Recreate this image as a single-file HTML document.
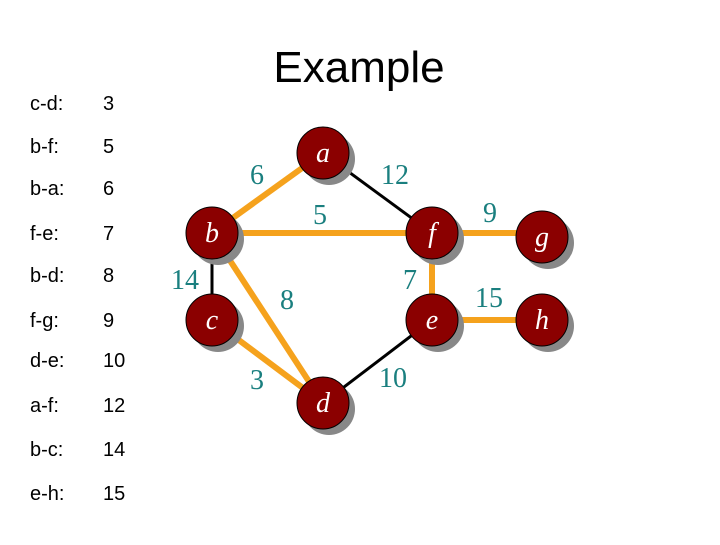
<!DOCTYPE html>
<html><head><style>
body{margin:0;width:720px;height:540px;background:#fff;overflow:hidden;}
</style></head><body>
<svg width="720" height="540" xmlns="http://www.w3.org/2000/svg">
<text x="359" y="82" font-family="Liberation Sans, sans-serif" font-size="44" text-anchor="middle">Example</text>
<g font-family="Liberation Sans, sans-serif" font-size="20" fill="#000">
<text x="30" y="110">c-d:</text><text x="103" y="110">3</text>
<text x="30" y="153">b-f:</text><text x="103" y="153">5</text>
<text x="30" y="195">b-a:</text><text x="103" y="195">6</text>
<text x="30" y="240">f-e:</text><text x="103" y="240">7</text>
<text x="30" y="282">b-d:</text><text x="103" y="282">8</text>
<text x="30" y="327">f-g:</text><text x="103" y="327">9</text>
<text x="30" y="367">d-e:</text><text x="103" y="367">10</text>
<text x="30" y="412">a-f:</text><text x="103" y="412">12</text>
<text x="30" y="456">b-c:</text><text x="103" y="456">14</text>
<text x="30" y="500">e-h:</text><text x="103" y="500">15</text>
</g>
<g stroke-linecap="butt">
<line x1="323" y1="153" x2="432" y2="233" stroke="#000" stroke-width="3"/>
<line x1="212" y1="233" x2="212" y2="320" stroke="#000" stroke-width="3"/>
<line x1="323" y1="403" x2="432" y2="320" stroke="#000" stroke-width="3"/>
<g stroke="#f5a21d" stroke-width="6">
<line x1="323" y1="153" x2="212" y2="233"/>
<line x1="212" y1="233" x2="432" y2="233"/>
<line x1="212" y1="233" x2="323" y2="403"/>
<line x1="212" y1="320" x2="323" y2="403"/>
<line x1="432" y1="233" x2="432" y2="320"/>
<line x1="432" y1="233" x2="542" y2="233"/>
<line x1="432" y1="320" x2="542" y2="320"/>
</g>
</g>
<g>
<g fill="#888">
<circle cx="329" cy="159" r="26"/><circle cx="218" cy="239" r="26"/><circle cx="438" cy="239" r="26"/>
<circle cx="218" cy="326" r="26"/><circle cx="438" cy="326" r="26"/><circle cx="329" cy="409" r="26"/>
<circle cx="548" cy="243" r="26"/><circle cx="548" cy="326" r="26"/>
</g>
<g fill="#8b0000" stroke="#000" stroke-width="1">
<circle cx="323" cy="153" r="26"/><circle cx="212" cy="233" r="26"/><circle cx="432" cy="233" r="26"/>
<circle cx="212" cy="320" r="26"/><circle cx="432" cy="320" r="26"/><circle cx="323" cy="403" r="26"/>
<circle cx="542" cy="237" r="26"/><circle cx="542" cy="320" r="26"/>
</g>
<g fill="#fff" font-family="Liberation Serif, serif" font-style="italic" font-size="28" text-anchor="middle">
<text x="323" y="162">a</text><text x="212" y="242">b</text><text x="432" y="242">f</text>
<text x="212" y="329">c</text><text x="432" y="329">e</text><text x="323" y="412">d</text>
<text x="542" y="246">g</text><text x="542" y="329">h</text>
</g>
</g>
<g fill="#1a7f7f" font-family="Liberation Serif, serif" font-size="28" text-anchor="middle">
<text x="257" y="184">6</text><text x="395" y="184">12</text><text x="320" y="224">5</text>
<text x="185" y="289">14</text><text x="287" y="309">8</text><text x="410" y="289">7</text>
<text x="257" y="389">3</text><text x="393" y="387">10</text>
<text x="490" y="222">9</text><text x="489" y="307">15</text>
</g>
</svg>
</body></html>
